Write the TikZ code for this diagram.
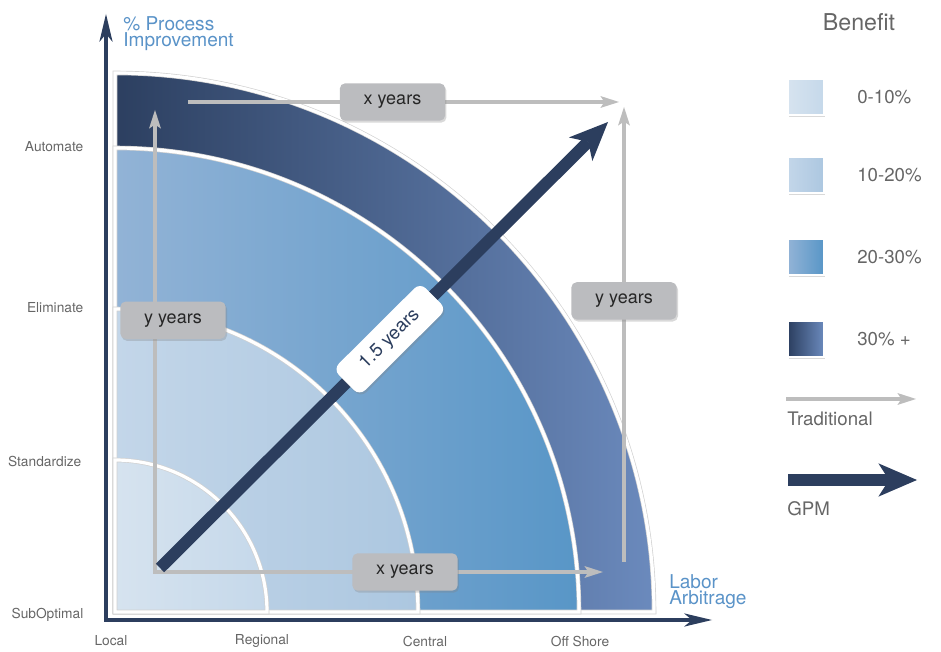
\documentclass[tikz,border=0pt]{standalone}
\usepackage{fontspec}
\setmainfont{TeX Gyre Heros}
\usetikzlibrary{arrows.meta}
\usetikzlibrary{shadows}

\definecolor{navy}{HTML}{2C3E5E}
\definecolor{axisblue}{HTML}{5A93C8}
\definecolor{txtgray}{HTML}{666666}
\definecolor{tradgray}{HTML}{BDBDBD}
\definecolor{boxgray}{HTML}{BBBCBF}
\definecolor{bandAl}{HTML}{D6E3EF}
\definecolor{bandAr}{HTML}{C5D8EA}
\definecolor{bandBl}{HTML}{C3D6E9}
\definecolor{bandBr}{HTML}{ACC7E0}
\definecolor{bandCl}{HTML}{92B3D6}
\definecolor{bandCr}{HTML}{5896C7}
\definecolor{bandDl}{HTML}{2C3F60}
\definecolor{bandDr}{HTML}{6B8ABD}

\tikzset{
  axisline/.style={draw=navy, line width=3.6pt,
    {Stealth[length=21pt,width=10pt,inset=6pt,line width=0pt]}-{Stealth[length=21pt,width=10pt,inset=6pt,line width=0pt]}},
  band/.style={draw=black!18, double=white, double distance=2.4pt, line width=0.5pt},
  trad/.style={draw=tradgray, line width=3pt, line cap=rect,
    -{Stealth[length=14pt,width=9pt,inset=3pt,line width=0pt]}},
  gpm/.style={draw=navy, line width=9pt,
    -{Stealth[length=29pt,width=25pt,inset=8pt,line width=0pt]}},
  lbl/.style={fill=boxgray, rounded corners=4pt, minimum width=79pt, minimum height=28pt,
    font=\fontsize{13.5}{16}\selectfont, text=black!85,
    drop shadow={opacity=0.3,shadow xshift=1pt,shadow yshift=-1.5pt}},
  tag/.style={fill=white, rounded corners=6pt, minimum width=92pt, minimum height=28pt,
    font=\fontsize{14}{16}\selectfont, text=navy,
    drop shadow={opacity=0.3,shadow xshift=1pt,shadow yshift=-1.5pt}},
  lvl/.style={font=\fontsize{10.3}{12}\selectfont, text=txtgray},
  axtitle/.style={font=\fontsize{14.3}{12.5}\selectfont, text=axisblue, align=left,
    inner sep=0pt, anchor=north west},
  legsq/.style={draw=white, line width=1.5pt, minimum size=27pt,
    drop shadow={opacity=0.3,shadow xshift=1pt,shadow yshift=-1.5pt}},
  legtxt/.style={font=\fontsize{14}{16}\selectfont, text=txtgray, anchor=west, inner sep=0pt},
}

\begin{document}
\begin{tikzpicture}[x=0.75pt, y=0.75pt]
    \useasboundingbox (0,0) rectangle (941,652);

    % axes
    \coordinate (ytip) at (106,638);
    \coordinate (corner) at (106,32);
    \coordinate (xtip) at (712,32);
    \draw[axisline] (ytip) -- (corner) -- (xtip);

    \node[axtitle] (ytitle) at (123,636) {\% Process\\Improvement};
    \node[axtitle] (xtitle) at (669,78) {Labor\\Arbitrage};

    % benefit bands
    \coordinate (O) at (115,40);
    \draw[band, left color=bandDl, right color=bandDr,
      drop shadow={opacity=0.25,shadow xshift=1.5pt,shadow yshift=-1.5pt}]
      (O) -- ++(539,0) arc[start angle=0, end angle=90, radius=539] -- cycle;
    \draw[band, left color=bandCl, right color=bandCr]
      (O) -- ++(464,0) arc[start angle=0, end angle=90, radius=464] -- cycle;
    \draw[band, left color=bandBl, right color=bandBr]
      (O) -- ++(303,0) arc[start angle=0, end angle=90, radius=303] -- cycle;
    \draw[band, left color=bandAl, right color=bandAr]
      (O) -- ++(152,0) arc[start angle=0, end angle=90, radius=152] -- cycle;

    % levels
    \node[lvl, anchor=east] (automate) at (88,505) {Automate};
    \node[lvl, anchor=east] (eliminate) at (88,344) {Eliminate};
    \node[lvl, anchor=east] (standardize) at (86,191) {Standardize};
    \node[lvl, anchor=east] (suboptimal) at (88,37) {SubOptimal};
    \node[lvl] (local) at (111,11) {Local};
    \node[lvl] (regional) at (262,11) {Regional};
    \node[lvl] (central) at (425,11) {Central};
    \node[lvl] (offshore) at (580,11) {Off Shore};

    % traditional paths
    \coordinate (tstart) at (155,80);
    \coordinate (tup) at (155,542);
    \coordinate (tright) at (603,80);
    \coordinate (ttopl) at (190,550);
    \coordinate (ttopr) at (619,550);
    \coordinate (trbot) at (624,92);
    \coordinate (trtop) at (624,545);
    \draw[trad] (tstart) -- node[lbl, pos=0.545, xshift=13.5pt] (yleft) {y years} (tup);
    \draw[trad] (tstart) -- node[lbl, pos=0.558] (xbottom) {x years} (tright);
    \draw[trad] (ttopl) -- node[lbl, pos=0.472] (xtop) {x years} (ttopr);
    \draw[trad] (trbot) -- node[lbl, pos=0.572] (yright) {y years} (trtop);

    % gpm path
    \coordinate (gstart) at (160,84);
    \coordinate (gend) at (608,530);
    \draw[gpm] (gstart) -- node[tag, pos=0.513, sloped] (fast) {1.5 years} (gend);

    % legend
    \node[font=\fontsize{17.4}{20}\selectfont, text=txtgray] (benefit) at (859,630) {Benefit};
    \node[legsq, left color=bandAl, right color=bandAr] (sqA) at (806,555) {};
    \node[legsq, left color=bandBl, right color=bandBr] (sqB) at (806,477) {};
    \node[legsq, left color=bandCl, right color=bandCr] (sqC) at (806,395) {};
    \node[legsq, left color=bandDl, right color=bandDr] (sqD) at (806,313) {};
    \node[legtxt] (txtA) at (857,555) {0-10\%};
    \node[legtxt] (txtB) at (857,477) {10-20\%};
    \node[legtxt] (txtC) at (857,395) {20-30\%};
    \node[legtxt] (txtD) at (857,313) {30\% +};

    \coordinate (ltradA) at (788,253);
    \coordinate (ltradB) at (916,253);
    \draw[trad] (ltradA) -- (ltradB);
    \node[legtxt] (tradtxt) at (787,233) {Traditional};
    \coordinate (lgpmA) at (788,172);
    \coordinate (lgpmB) at (917,172);
    \draw[gpm] (lgpmA) -- (lgpmB);
    \node[legtxt] (gpmtxt) at (787,143) {GPM};
\end{tikzpicture}
\end{document}
